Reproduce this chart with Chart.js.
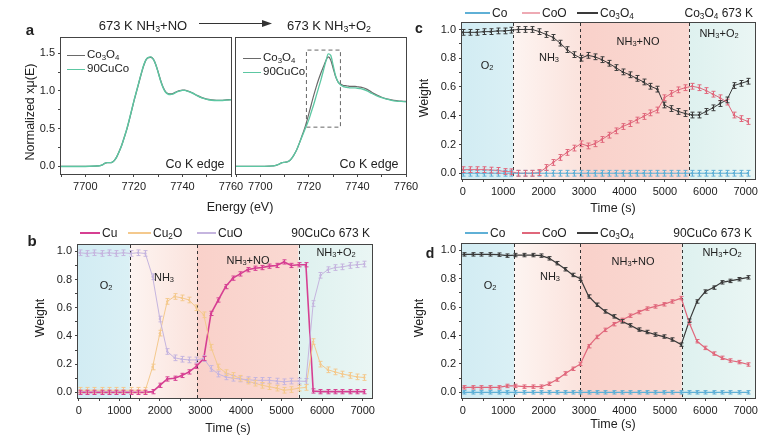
<!DOCTYPE html>
<html>
<head>
<meta charset="utf-8">
<script src="https://cdn.jsdelivr.net/npm/chart.js@4.4.1/dist/chart.umd.min.js"></script>
<style>
  html, body { margin: 0; padding: 0; background: #fff; }
  #fig { position: relative; width: 779px; height: 442px; overflow: hidden; font-family: 'Liberation Sans', Arial, sans-serif; color: #222; }
  #fig canvas { position: absolute; }
  .t { position: absolute; white-space: nowrap; line-height: 1; transform: translate(-50%, -50%); }
  .t.l { transform: translate(0, -50%); }
  .t.r { transform: translate(-100%, -50%); }
  .t.v { transform: translate(-50%, -50%) rotate(-90deg); }
  .sw { position: absolute; }
  sub { font-size: 0.68em; vertical-align: -0.25em; line-height: 0; }
</style>
</head>
<body>
<div id="fig"></div>
<script>
// ---- panel a : Co K edge XANES ----
const energy = [7690, 7695, 7700, 7704, 7706, 7707, 7708, 7709, 7710, 7711, 7712, 7713, 7714, 7715, 7716, 7717, 7718, 7719, 7720, 7721, 7722, 7723, 7724, 7725, 7726, 7727, 7728, 7729, 7730, 7731, 7732, 7733, 7734, 7735, 7736, 7737, 7738, 7739, 7740, 7741, 7742, 7744, 7746, 7748, 7750, 7752, 7754, 7756, 7758, 7760]
const noCo3O4 = [0, 0, 0, 0.005, 0.01, 0.02, 0.04, 0.05, 0.05, 0.055, 0.08, 0.13, 0.2, 0.28, 0.38, 0.48, 0.6, 0.73, 0.86, 0.98, 1.1, 1.22, 1.33, 1.41, 1.44, 1.445, 1.42, 1.35, 1.25, 1.14, 1.05, 0.99, 0.965, 0.96, 0.965, 0.98, 0.995, 1.005, 1.01, 1.01, 1.0, 0.975, 0.94, 0.91, 0.89, 0.88, 0.875, 0.875, 0.88, 0.885]
const noCuCo = [0, 0, 0, 0.005, 0.01, 0.02, 0.04, 0.05, 0.05, 0.055, 0.08, 0.13, 0.2, 0.28, 0.38, 0.485, 0.605, 0.735, 0.865, 0.985, 1.105, 1.225, 1.335, 1.415, 1.445, 1.45, 1.42, 1.35, 1.245, 1.135, 1.045, 0.985, 0.958, 0.952, 0.958, 0.975, 0.99, 1.0, 1.007, 1.007, 0.997, 0.972, 0.937, 0.907, 0.887, 0.877, 0.872, 0.873, 0.878, 0.882]
const o2Co3O4 = [0, 0, 0, 0.005, 0.01, 0.02, 0.035, 0.05, 0.055, 0.06, 0.075, 0.11, 0.16, 0.22, 0.3, 0.39, 0.48, 0.58, 0.7, 0.82, 0.94, 1.05, 1.15, 1.24, 1.32, 1.4, 1.45, 1.41, 1.3, 1.19, 1.12, 1.09, 1.075, 1.07, 1.065, 1.06, 1.06, 1.06, 1.055, 1.05, 1.045, 1.02, 0.98, 0.945, 0.915, 0.895, 0.88, 0.87, 0.865, 0.86]
const o2CuCo = [0, 0, 0, 0.005, 0.01, 0.02, 0.035, 0.05, 0.055, 0.06, 0.075, 0.11, 0.16, 0.22, 0.3, 0.38, 0.46, 0.54, 0.62, 0.72, 0.82, 0.93, 1.04, 1.15, 1.27, 1.39, 1.49, 1.47, 1.34, 1.2, 1.12, 1.08, 1.06, 1.05, 1.045, 1.04, 1.04, 1.04, 1.035, 1.03, 1.025, 1.0, 0.965, 0.935, 0.91, 0.89, 0.875, 0.865, 0.86, 0.855]
const zoomBox = [7719, 7733, 0.52, 1.54]   // x0, x1, y0, y1 of the dashed box
const energyTicks = [7690, 7700, 7710, 7720, 7730, 7740, 7750, 7760]
const xanesTicks = [0, 0.25, 0.5, 0.75, 1, 1.25, 1.5]

// ---- panel b : 90CuCo, Cu species ----
const timeB = [20, 200, 380, 560, 740, 920, 1100, 1280, 1460, 1640, 1820, 2000, 2180, 2360, 2540, 2720, 2900, 3080, 3260, 3440, 3620, 3800, 3980, 4160, 4340, 4520, 4700, 4880, 5060, 5240, 5420, 5600, 5780, 5960, 6140, 6320, 6500, 6680, 6860, 7040]
const cuB = [0, 0, 0, 0, 0, 0, 0, 0, 0, 0, 0.005, 0.05, 0.095, 0.1, 0.12, 0.145, 0.185, 0.24, 0.56, 0.655, 0.75, 0.81, 0.84, 0.87, 0.88, 0.885, 0.895, 0.9, 0.925, 0.9, 0.905, 0.905, 0.01, 0.005, 0.005, 0.005, 0.005, 0.005, 0.005, 0.005]
const cu2oB = [0.015, 0.015, 0.015, 0.015, 0.015, 0.015, 0.015, 0.015, 0.015, 0.015, 0.18, 0.42, 0.645, 0.68, 0.67, 0.655, 0.6, 0.55, 0.32, 0.18, 0.14, 0.12, 0.1, 0.08, 0.065, 0.05, 0.04, 0.03, 0.015, 0.02, 0.03, 0.035, 0.36, 0.2, 0.16, 0.145, 0.13, 0.12, 0.11, 0.105]
const cuoB = [0.99, 0.985, 0.99, 0.985, 0.99, 0.985, 0.99, 0.985, 0.99, 0.985, 0.82, 0.52, 0.29, 0.245, 0.235, 0.23, 0.23, 0.24, 0.17, 0.13, 0.11, 0.1, 0.095, 0.09, 0.085, 0.085, 0.085, 0.08, 0.075, 0.08, 0.08, 0.078, 0.63, 0.83, 0.87, 0.885, 0.89, 0.9, 0.905, 0.91]

// ---- panel c : Co3O4, Co species ----
const timeC = [0, 172, 344, 516, 688, 860, 1032, 1204, 1376, 1548, 1720, 1892, 2064, 2236, 2408, 2580, 2752, 2924, 3096, 3268, 3440, 3612, 3784, 3956, 4128, 4300, 4472, 4644, 4816, 4988, 5160, 5332, 5504, 5676, 5848, 6020, 6192, 6364, 6536, 6708, 6880, 7052]
const coC = [0, 0, 0, 0, 0, 0, 0, 0, 0, 0, 0, 0, 0, 0, 0, 0, 0, 0, 0, 0, 0, 0, 0, 0, 0, 0, 0, 0, 0, 0, 0, 0, 0, 0, 0, 0, 0, 0, 0, 0, 0, 0]
const cooC = [0.025, 0.025, 0.025, 0.025, 0.022, 0.02, 0.012, 0.01, 0, 0, 0, 0.005, 0.04, 0.075, 0.11, 0.145, 0.175, 0.205, 0.19, 0.205, 0.235, 0.265, 0.295, 0.325, 0.345, 0.37, 0.395, 0.42, 0.44, 0.525, 0.555, 0.58, 0.595, 0.605, 0.595, 0.575, 0.55, 0.525, 0.495, 0.405, 0.38, 0.36]
const co3o4C = [0.98, 0.98, 0.98, 0.985, 0.985, 0.99, 0.99, 0.995, 1, 1, 1, 0.985, 0.965, 0.945, 0.905, 0.86, 0.825, 0.8, 0.82, 0.81, 0.79, 0.765, 0.735, 0.705, 0.685, 0.66, 0.635, 0.605, 0.585, 0.475, 0.45, 0.43, 0.415, 0.405, 0.405, 0.43, 0.455, 0.485, 0.51, 0.61, 0.625, 0.64]

// ---- panel d : 90CuCo, Co species ----
const timeD = [20, 240, 460, 675, 890, 1095, 1300, 1520, 1730, 1945, 2140, 2330, 2540, 2720, 2910, 3115, 3320, 3525, 3735, 3940, 4145, 4350, 4555, 4765, 4970, 5175, 5405, 5605, 5795, 6000, 6205, 6410, 6615, 6840, 7065]
const coD = [0, 0, 0, 0, 0, 0, 0, 0, 0, 0, 0, 0, 0, 0, 0, 0, 0, 0, 0, 0, 0, 0, 0, 0, 0, 0, 0, 0, 0, 0, 0, 0, 0, 0, 0]
const cooD = [0.035, 0.035, 0.035, 0.035, 0.035, 0.045, 0.045, 0.04, 0.04, 0.04, 0.06, 0.09, 0.133, 0.166, 0.2, 0.325, 0.39, 0.44, 0.48, 0.51, 0.54, 0.565, 0.59, 0.605, 0.62, 0.64, 0.664, 0.488, 0.36, 0.313, 0.273, 0.243, 0.224, 0.213, 0.196]
const co3o4D = [0.972, 0.972, 0.972, 0.972, 0.97, 0.963, 0.967, 0.967, 0.967, 0.963, 0.944, 0.91, 0.867, 0.827, 0.8, 0.675, 0.617, 0.57, 0.535, 0.5, 0.472, 0.442, 0.425, 0.407, 0.393, 0.372, 0.336, 0.505, 0.64, 0.71, 0.738, 0.775, 0.785, 0.797, 0.81]

// gas switch times (s)
const stepsB = [1260, 2910, 5420]
const stepsC = [1250, 2900, 5600]
const stepsD = [1270, 2910, 5420]
const timeTicks = [0, 500, 1000, 1500, 2000, 2500, 3000, 3500, 4000, 4500, 5000, 5500, 6000, 6500, 7000]
const weightTicks = [0, 0.1, 0.2, 0.3, 0.4, 0.5, 0.6, 0.7, 0.8, 0.9, 1.0]

const colors = {
  co: '#5fb0d6', coo: '#e0677b', co3o4: '#3a3a3a',
  cu: '#d63f92', cu2o: '#f4c98d', cuo: '#c5b5df',
  gray: '#6a6a6a', green: '#5cc7a2'
}
const phaseFill = [['#d2ecf3', '#daf0f5'], ['#fdf4f1', '#fbe3dd'], ['#f9d1ca', '#fad9d2'], ['#def1ef', '#eaf6f4']]

const FONT = "'Liberation Sans', Arial, sans-serif"
Chart.defaults.font.family = FONT
Chart.defaults.font.size = 11
Chart.defaults.color = '#222'

const fig = document.getElementById('fig')

// coloured gas windows + dashed switch lines
const phasePlugin = {
  id: 'phases',
  beforeDatasetsDraw(chart, args, opts) {
    if (!opts.steps) return
    const { ctx, chartArea: a, scales: { x } } = chart
    const edges = [a.left, ...opts.steps.map(s => x.getPixelForValue(s)), a.right]
    ctx.save()
    for (let i = 0; i < edges.length - 1; i++) {
      const g = ctx.createLinearGradient(edges[i], 0, edges[i + 1], 0)
      g.addColorStop(0, phaseFill[i][0])
      g.addColorStop(1, phaseFill[i][1])
      ctx.fillStyle = g
      ctx.fillRect(edges[i], a.top, edges[i + 1] - edges[i], a.bottom - a.top)
    }
    ctx.setLineDash([3, 3])
    ctx.strokeStyle = '#333'
    ctx.lineWidth = 1
    opts.steps.forEach(s => {
      const px = Math.round(x.getPixelForValue(s)) + 0.5
      ctx.beginPath()
      ctx.moveTo(px, a.top)
      ctx.lineTo(px, a.bottom)
      ctx.stroke()
    })
    ctx.restore()
  }
}

// vertical error bars with caps
const errPlugin = {
  id: 'errbars',
  afterDatasetsDraw(chart) {
    const { ctx, scales: { x, y } } = chart
    ctx.save()
    chart.data.datasets.forEach(ds => {
      if (!ds.err) return
      ctx.strokeStyle = ds.borderColor
      ctx.lineWidth = 1
      ds.data.forEach(p => {
        const px = Math.round(x.getPixelForValue(p.x)) + 0.5
        const y1 = y.getPixelForValue(p.y + ds.err)
        const y2 = y.getPixelForValue(p.y - ds.err)
        ctx.beginPath()
        ctx.moveTo(px, y1); ctx.lineTo(px, y2)
        ctx.moveTo(px - 2, y1); ctx.lineTo(px + 2, y1)
        ctx.moveTo(px - 2, y2); ctx.lineTo(px + 2, y2)
        ctx.stroke()
      })
    })
    ctx.restore()
  }
}

const framePlugin = {
  id: 'frame',
  afterDraw(chart) {
    const { ctx, chartArea: a } = chart
    ctx.save()
    ctx.strokeStyle = '#444'
    ctx.lineWidth = 1
    ctx.strokeRect(a.left - 0.5, a.top - 0.5, a.right - a.left + 1, a.bottom - a.top + 1)
    ctx.restore()
  }
}

// box = [left, top, right, bottom] of the plot area in page pixels
function panel(box, xr, yr, xt, yt, xLab, yLab, datasets, steps, yTickMarks = true) {
  const padL = 45, padT = 8, padR = 16, padB = 26
  const w = box[2] - box[0] + padL + padR
  const h = box[3] - box[1] + padT + padB
  const cv = document.createElement('canvas')
  cv.width = w; cv.height = h
  cv.style.left = (box[0] - padL) + 'px'
  cv.style.top = (box[1] - padT) + 'px'
  cv.style.width = w + 'px'; cv.style.height = h + 'px'
  fig.appendChild(cv)

  const axis = (min, max, ticks, lab, key, size, marks) => ({
    type: 'linear', min, max,
    border: { display: false },
    grid: { drawOnChartArea: false, drawTicks: marks, tickLength: 3, tickColor: '#444' },
    ticks: { autoSkip: false, maxRotation: 0, padding: 3, color: '#222', font: { size: 11 }, callback: v => lab(v) },
    afterBuildTicks: s => { s.ticks = ticks.map(v => ({ value: v })) },
    afterFit: s => {
      s[key] = size
      s.paddingLeft = s.paddingRight = s.paddingTop = s.paddingBottom = 0
    }
  })

  return new Chart(cv, {
    type: 'line',
    data: { datasets },
    options: {
      responsive: false, animation: false, devicePixelRatio: 1,
      layout: { padding: { left: 0, top: padT, right: padR, bottom: 0 } },
      plugins: { legend: { display: false }, tooltip: { enabled: false }, phases: { steps } },
      scales: {
        x: axis(xr[0], xr[1], xt, xLab, 'height', padB, true),
        y: axis(yr[0], yr[1], yt, yLab, 'width', padL, yTickMarks)
      }
    },
    plugins: [phasePlugin, errPlugin, framePlugin]
  })
}

const curve = (vals, color, width = 1.3) => ({
  data: energy.map((e, i) => ({ x: e, y: vals[i] })),
  borderColor: color, borderWidth: width, pointRadius: 0,
  tension: 0.4, cubicInterpolationMode: 'monotone'
})

const series = (times, vals, color, err, width = 1) => ({
  data: times.map((t, i) => ({ x: t, y: vals[i] })),
  borderColor: color, backgroundColor: color, borderWidth: width,
  pointRadius: 1.2, pointBorderWidth: 0, tension: 0, err
})

const eLab = v => (v % 20 === 0 ? String(v) : '')
const xaLab = v => (Math.round(v * 100) % 50 === 0 ? v.toFixed(1) : '')
const tLab = v => (v % 1000 === 0 ? String(v) : '')
const wLab = v => (Math.round(v * 10) % 2 === 0 ? v.toFixed(1) : '')
const TR = [-20, 7230], WR = [-0.04, 1.045]

// a, left: NH3+NO
panel([61, 38, 231, 174], [7690, 7760], [-0.1, 1.7], energyTicks, xanesTicks, eLab, xaLab,
  [curve(noCuCo, colors.green, 1.4), curve(noCo3O4, colors.gray, 1.3)])

// a, right: NH3+O2
panel([236, 38, 406, 174], [7690, 7760], [-0.1, 1.7], energyTicks, xanesTicks, eLab, () => '',
  [curve(o2CuCo, colors.green, 1.3), curve(o2Co3O4, colors.gray, 1.2),
   { data: [{ x: zoomBox[0], y: zoomBox[2] }, { x: zoomBox[1], y: zoomBox[2] }, { x: zoomBox[1], y: zoomBox[3] },
            { x: zoomBox[0], y: zoomBox[3] }, { x: zoomBox[0], y: zoomBox[2] }],
     borderColor: '#666', borderWidth: 1, borderDash: [4, 3], pointRadius: 0, tension: 0 }],
  null, false)

// b
panel([78, 245, 372, 398], TR, WR, timeTicks, weightTicks, tLab, wLab,
  [series(timeB, cuoB, colors.cuo, 0.02), series(timeB, cu2oB, colors.cu2o, 0.02), series(timeB, cuB, colors.cu, 0.015, 1.6)],
  stepsB)

// c
panel([462, 23, 755, 179], TR, WR, timeTicks, weightTicks, tLab, wLab,
  [series(timeC, coC, colors.co, 0.02), series(timeC, cooC, colors.coo, 0.02), series(timeC, co3o4C, colors.co3o4, 0.02)],
  stepsC)

// d
panel([462, 244, 755, 398], TR, WR, timeTicks, weightTicks, tLab, wLab,
  [series(timeD, coD, colors.co, 0.012, 1.2), series(timeD, cooD, colors.coo, 0.012, 1.2), series(timeD, co3o4D, colors.co3o4, 0.012, 1.2)],
  stepsD)

// ---- text, legends ----
function text(html, x, y, size, cls = '', extra = '') {
  const el = document.createElement('div')
  el.className = 't ' + cls
  el.innerHTML = html
  el.style.cssText = `left:${x}px;top:${y}px;font-size:${size}px;${extra}`
  fig.appendChild(el)
}
function swatch(x0, x1, y, color, w = 1) {
  const el = document.createElement('div')
  el.className = 'sw'
  el.style.cssText = `left:${x0}px;top:${y - w / 2}px;width:${x1 - x0}px;height:${w}px;background:${color}`
  fig.appendChild(el)
}

const CO3O4 = 'Co<sub>3</sub>O<sub>4</sub>'
const phaseNames = ['O<sub>2</sub>', 'NH<sub>3</sub>', 'NH<sub>3</sub>+NO', 'NH<sub>3</sub>+O<sub>2</sub>']

// a
text('a', 30, 29, 15, '', 'font-weight:bold')
text('673 K NH<sub>3</sub>+NO', 143, 25, 13)
text('673 K NH<sub>3</sub>+O<sub>2</sub>', 329, 25, 13)
fig.insertAdjacentHTML('beforeend',
  '<svg style="position:absolute;left:199px;top:19px" width="76" height="10">' +
  '<line x1="0" y1="4.5" x2="66" y2="4.5" stroke="#333" stroke-width="1"/>' +
  '<polygon points="63,1 73,4.5 63,8" fill="#333"/></svg>')
text('Normalized xμ(E)', 30, 112, 12.5, 'v')
text('Energy (eV)', 240, 207, 12.5)
swatch(67, 85, 55, colors.gray); text(CO3O4, 87, 55, 11.5, 'l')
swatch(67, 85, 69, colors.green); text('90CuCo', 87, 69, 11.5, 'l')
swatch(243, 261, 58, colors.gray); text(CO3O4, 263, 58, 11.5, 'l')
swatch(243, 261, 72, colors.green); text('90CuCo', 263, 72, 11.5, 'l')
text('Co K edge', 195, 164, 12.5)
text('Co K edge', 369, 164, 12.5)

// b
text('b', 32, 240, 15, '', 'font-weight:bold')
swatch(80, 100, 233, colors.cu, 2); text('Cu', 102, 233, 12, 'l')
swatch(128, 151, 233, colors.cu2o, 1.2); text('Cu<sub>2</sub>O', 153, 233, 12, 'l')
swatch(197, 216, 233, colors.cuo, 1.2); text('CuO', 218, 233, 12, 'l')
text('90CuCo 673 K', 370, 233, 12, 'r')
text('Weight', 40, 318, 12.5, 'v')
text('Time (s)', 228, 428, 12.5)
;[[106, 285], [164, 277], [248, 260], [336, 252]].forEach((p, i) => text(phaseNames[i], p[0], p[1], 11))

// c
text('c', 419, 28, 14, '', 'font-weight:bold')
swatch(465, 490, 13, colors.co, 1.2); text('Co', 492, 13, 12, 'l')
swatch(522, 540, 13, '#eeaab4', 1.2); text('CoO', 542, 13, 12, 'l')
swatch(577, 598, 13, colors.co3o4, 1.2); text(CO3O4, 600, 13, 12, 'l')
text(CO3O4 + ' 673 K', 753, 13, 12, 'r')
text('Weight', 424, 98, 12.5, 'v')
text('Time (s)', 613, 208, 12.5)
;[[487, 65], [549, 57], [638, 41], [719, 33]].forEach((p, i) => text(phaseNames[i], p[0], p[1], 11))

// d
text('d', 430, 253, 14, '', 'font-weight:bold')
swatch(465, 488, 233, colors.co, 1.2); text('Co', 490, 233, 12, 'l')
swatch(522, 540, 233, colors.coo, 1.2); text('CoO', 542, 233, 12, 'l')
swatch(577, 598, 233, colors.co3o4, 1.2); text(CO3O4, 600, 233, 12, 'l')
text('90CuCo 673 K', 752, 233, 12, 'r')
text('Weight', 419, 318, 12.5, 'v')
text('Time (s)', 613, 424, 12.5)
;[[490, 285], [550, 276], [633, 261], [722, 252]].forEach((p, i) => text(phaseNames[i], p[0], p[1], 11))
</script>
</body>
</html>
